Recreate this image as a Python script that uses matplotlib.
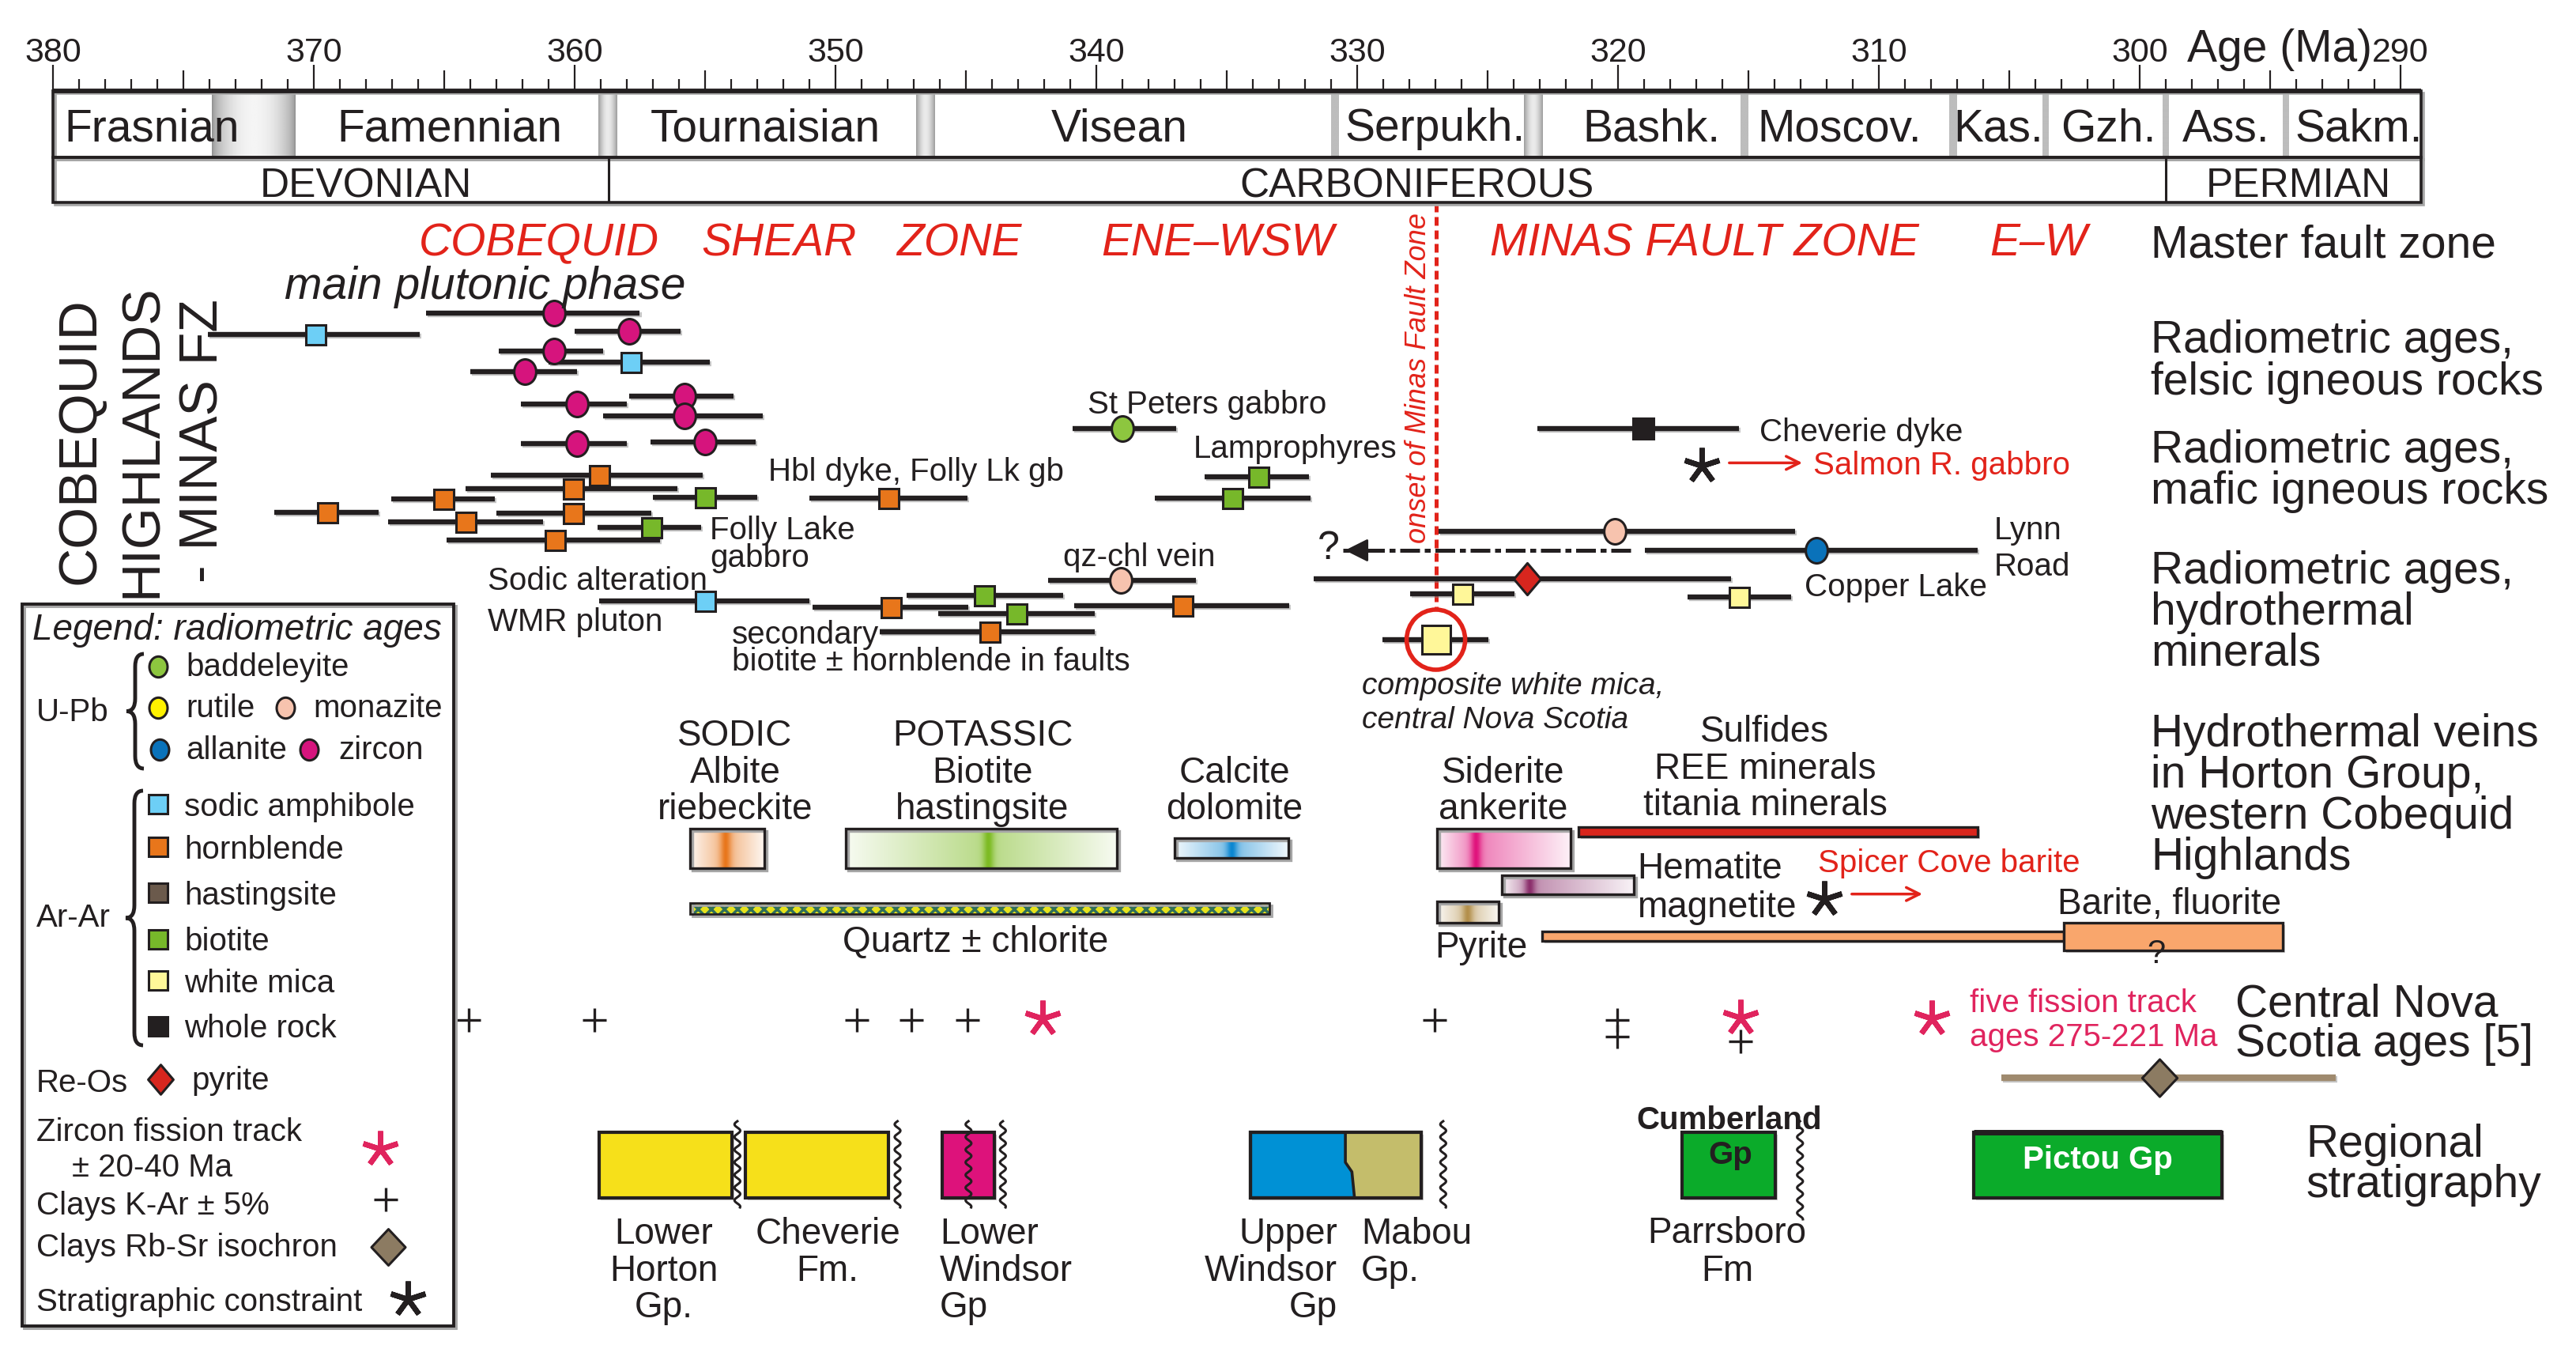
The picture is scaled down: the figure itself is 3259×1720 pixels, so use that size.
import numpy as np
import matplotlib
matplotlib.use("Agg")
import matplotlib.pyplot as plt
import matplotlib.patheffects as pe
from matplotlib.patches import Rectangle, Ellipse, Polygon, PathPatch, FancyArrowPatch
from matplotlib.path import Path
from matplotlib.transforms import Affine2D

plt.rcParams["font.family"] = ["Liberation Sans", "DejaVu Sans"]
plt.rcParams["hatch.linewidth"] = 2.5

# ---------------- time scale (Ma) ----------------
tick_ages = list(range(380, 289, -10))
stage_names = ["Frasnian", "Famennian", "Tournaisian", "Visean", "Serpukh.", "Bashk.",
               "Moscov.", "Kas.", "Gzh.", "Ass.", "Sakm."]
stage_label_age = [376.2, 364.8, 352.7, 339.1, 327.0, 318.7, 311.5, 305.4, 301.2, 296.7, 291.6]
stage_bounds = [372.3, 358.75, 346.55, 330.85, 323.25, 315.15, 307.15, 303.6, 299.0, 294.4]
bound_halfwidth = [1.6, 0.35, 0.35, 0.15, 0.35, 0.15, 0.15, 0.12, 0.12, 0.12]
period_names = ["DEVONIAN", "CARBONIFEROUS", "PERMIAN"]
period_label_age = [368.0, 327.7, 293.9]
period_bounds = [358.7, 299.0]

# ---------------- radiometric ages: centre, older limit, younger limit ----------------
sodamph_age = [369.95, 357.84, 354.99]
sodamph_old = [374.06, 361.0, 359.07]
sodamph_young = [365.94, 354.82, 351.0]

zircon_age = [360.8, 357.9, 360.8, 361.9, 355.8, 359.9, 355.8, 359.9, 355.0]
zircon_old = [365.7, 360.0, 362.9, 364.0, 357.9, 362.05, 358.9, 362.05, 357.1]
zircon_young = [357.5, 355.95, 358.9, 359.9, 353.9, 358.0, 352.8, 358.0, 353.05]

hbl_age = [359.07, 360.07, 365.02, 369.49, 360.07, 364.17, 360.77, 347.98, 347.87, 344.09, 336.71]
hbl_old = [363.22, 364.17, 367.04, 371.51, 363.0, 367.15, 364.92, 351.0, 350.89, 348.3, 340.85]
hbl_young = [355.08, 356.05, 363.07, 367.51, 357.05, 361.2, 356.73, 344.94, 344.9, 340.07, 332.6]

bt_age = [354.99, 357.05, 333.79, 334.79, 344.3, 343.05]
bt_old = [356.99, 359.12, 335.85, 337.76, 347.28, 346.07]
bt_young = [353.01, 355.14, 331.85, 331.8, 341.28, 340.07]

badd_age, badd_old, badd_young = [339.01], [340.92], [336.93]
monaz_age = [339.05, 320.13]
monaz_old = [341.86, 326.89]
monaz_young = [336.18, 313.2]
allan_age, allan_old, allan_young = [312.39], [318.96], [306.2]
allan_extension = [319.5, 330.55]
wr_age, wr_old, wr_young = [319.02], [323.1], [315.35]
reos_age, reos_old, reos_young = [323.49], [331.68], [315.67]
wmica_age = [325.98, 315.35]
wmica_old = [327.96, 317.34]
wmica_young = [323.96, 313.35]
composite_age, composite_old, composite_young = [326.98], [329.02], [324.98]
minas_onset = 326.98
strat_constraint_age = [316.8, 312.1]

# Central Nova Scotia ages
kar_age = [364.07, 359.24, 349.19, 347.09, 344.94, 327.04, 320.03, 320.03, 315.3]
zft_age = [342.07, 315.3, 307.98]
rbsr_age, rbsr_old, rbsr_young = [299.24], [305.29], [292.48]

# hydrothermal veins: older end, younger end, peak
vein_names = ["sodic", "potassic", "calcite", "siderite", "hematite", "pyrite"]
vein_old = [355.56, 349.62, 336.99, 326.94, 324.45, 326.94]
vein_young = [352.73, 339.2, 332.65, 321.83, 319.39, 324.56]
vein_peak = [354.2, 344.15, 334.8, 325.45, 323.38, 325.77]
quartz_range = [355.56, 333.37]
sulfide_range = [321.5, 306.2]
barite_thin = [322.9, 302.9]
barite_box = [302.9, 294.5]

# regional stratigraphy
strat_names = ["Lower Horton", "Cheverie", "Lower Windsor", "Upper Windsor", "Mabou", "Cumberland", "Pictou"]
strat_old = [359.07, 353.44, 345.92, 334.1, 330.45, 317.55, 306.35]
strat_young = [353.97, 347.98, 343.9, 330.45, 327.53, 313.96, 296.85]
unconformity_age = [353.76, 347.62, 344.9, 343.58, 326.7, 313.02]

# ---------------- row positions (layout, px from top) ----------------
sodamph_y = [423, 458, 760]
zircon_y = [396, 419, 444, 470, 501, 511, 526, 561, 559]
hbl_y = [601, 618, 631, 648, 649, 660, 683, 630, 768, 799, 766]
bt_y = [629, 667, 603, 630, 753, 776]
badd_y = [542]
monaz_y = [734, 672]
allan_y = [696]
wr_y = [542]
reos_y = [732]
wmica_y = [751, 755]
composite_y = [809]
strat_constraint_y = [589, 1137]
kar_y = [1290, 1290, 1290, 1290, 1290, 1290, 1290, 1311, 1317]
zft_y = [1288, 1287, 1288]
rbsr_y = [1363]

INK = "#231f20"
RED = "#e2231a"
CRIMSON = "#e0245e"

fig = plt.figure(figsize=(32.59, 17.20), dpi=100)
ax = fig.add_axes([0, 0, 1, 1])
lay = fig.add_axes([0, 0, 1, 1])
lay.patch.set_alpha(0)
ax.axis("off")
lay.axis("off")

line_fx = [pe.SimpleLineShadow(offset=(1.5, -1.5), shadow_color="0.55", alpha=0.5), pe.Normal()]
box_fx = [pe.SimplePatchShadow(offset=(2, -2), shadow_rgbFace="0.6", alpha=0.5), pe.Normal()]

ellipse_mk = Affine2D().scale(0.87, 1.0).transform_path(Path.unit_circle())
diamond_mk = Path([(0, 1), (0.85, 0), (0, -1), (-0.85, 0), (0, 1)], closed=True)
rbsr_mk = Path([(0, 1), (0.94, 0), (0, -1), (-0.94, 0), (0, 1)], closed=True)
star_mk = (5, 2, 0)


def outline(axis, x, y, w, h, lw, shadow=True, zorder=3):
    # unfilled frame with a thin grey drop shadow
    if shadow:
        axis.add_patch(Rectangle((x, y), w, h, fill=False, ec="0.65", lw=lw, zorder=zorder - 0.1,
                                 transform=axis.transData + Affine2D().translate(3, -3)))
    axis.add_patch(Rectangle((x, y), w, h, fill=False, ec=INK, lw=lw, zorder=zorder))


# ---------------- time scale ----------------
TS_TOP, TS_MID, TS_BOT, TS_END = 115, 199, 256, 289.2
for b, hw in zip(stage_bounds, bound_halfwidth):
    t = np.linspace(0, 1, 64)
    if hw > 1:
        v = 0.58 + 0.38 * np.sin(np.pi * t) ** 0.6
    elif hw > 0.2:
        v = 0.62 + 0.3 * np.sin(np.pi * t)
    else:
        v = np.full(64, 0.74)
    ax.imshow(np.tile(v, (2, 1)), cmap="gray", vmin=0, vmax=1, aspect="auto",
              extent=(b + hw, b - hw, TS_MID, TS_TOP), interpolation="bilinear", zorder=1)
outline(ax, TS_END, TS_TOP, 380 - TS_END, TS_MID - TS_TOP, 2.6)
outline(ax, TS_END, TS_MID, 380 - TS_END, TS_BOT - TS_MID, 2.6)
ax.vlines(period_bounds, TS_MID, TS_BOT, color=INK, lw=2.2, zorder=3)
ax.hlines(TS_TOP, 380, TS_END, color=INK, lw=4.2, zorder=4)
minor = np.arange(290, 381)
tick_len = np.where(minor % 10 == 0, 33, np.where(minor % 5 == 0, 26, 15))
ax.vlines(minor, TS_TOP - tick_len, TS_TOP, color=INK, lw=1.6, zorder=4)
for a in tick_ages:
    ax.text(a, 62.5, str(a), fontsize=31, ha="center", va="center_baseline", color=INK)
ax.text(294.64, 57, "Age (Ma)", fontsize=41, ha="center", va="center_baseline", color=INK)
for name, a in zip(stage_names, stage_label_age):
    ax.text(a, 157.5, name, fontsize=41, ha="center", va="center_baseline", color=INK, zorder=5)
for name, a in zip(period_names, period_label_age):
    ax.text(a, 230, name, fontsize=37, ha="center", va="center_baseline", color=INK)

# ---------------- headers ----------------
for x, s in [(529.6, "COBEQUID"), (887, "SHEAR"), (1134, "ZONE"), (1393.7, "ENE\u2013WSW"),
             (1884.8, "MINAS FAULT ZONE"), (2517.6, "E\u2013W")]:
    lay.text(x, 302, s, fontsize=41, style="italic", color=RED, va="center_baseline")


def lines(x, ys, texts, size, **kw):
    kw.setdefault("va", "center_baseline")
    kw.setdefault("color", INK)
    for y, s in zip(ys, texts):
        lay.text(x, y, s, fontsize=size, **kw)


lines(2721, [304], ["Master fault zone"], 41)
lines(2721, [425.5, 478], ["Radiometric ages,", "felsic igneous rocks"], 41)
lines(2721, [564, 615.7], ["Radiometric ages,", "mafic igneous rocks"], 41)
lines(2721, [716.6, 769.3, 821], ["Radiometric ages,", "hydrothermal", "minerals"], 41)
lines(2721, [923, 975, 1026.7, 1079], ["Hydrothermal veins", "in Horton Group,", "western Cobequid", "Highlands"], 41)
lines(2828, [1264, 1315], ["Central Nova", "Scotia ages [5]"], 41)
lines(2917, [1441.7, 1493], ["Regional", "stratigraphy"], 41)

for x, s in [(101, "COBEQUID"), (180, "HIGHLANDS"), (257, "- MINAS FZ")]:
    lay.text(x, 558, s, fontsize=49, rotation=90, ha="center", va="center", color=INK)

lay.text(614, 356.5, "main plutonic phase", fontsize=41, style="italic", ha="center", va="center_baseline", color=INK)

# ---------------- Minas fault onset ----------------
ax.vlines(minas_onset, 257, 771, color=RED, lw=3.6, linestyles=(0, (2.2, 1.2)), zorder=2)
lay.text(1794, 478, "onset of Minas Fault Zone", fontsize=26, style="italic", rotation=90,
         ha="center", va="center", color=RED)
ax.add_patch(Ellipse((composite_age[0], composite_y[0]), 74 / 33, 76, fill=False, ec=RED, lw=4, zorder=6))


# ---------------- radiometric age bars ----------------
def bars(age, old, young, ys, marker, fc, ms, mew=2.2):
    ax.hlines(ys, old, young, colors=INK, lw=4.6, zorder=3, path_effects=line_fx)
    ax.plot(age, ys, ls="none", marker=marker, ms=ms, mfc=fc, mec=INK, mew=mew, zorder=4)


bars(hbl_age, hbl_old, hbl_young, hbl_y, "s", "#e8761b", 18)
bars(bt_age, bt_old, bt_young, bt_y, "s", "#77b82a", 18)
bars(zircon_age, zircon_old, zircon_young, zircon_y, ellipse_mk, "#d6147d", 23)
bars(sodamph_age, sodamph_old, sodamph_young, sodamph_y, "s", "#6dcff6", 18)
bars(badd_age, badd_old, badd_young, badd_y, ellipse_mk, "#8dc63f", 23)
bars(monaz_age, monaz_old, monaz_young, monaz_y, ellipse_mk, "#f7c3ae", 23)
bars(allan_age, allan_old, allan_young, allan_y, ellipse_mk, "#0a72ba", 23)
bars(wr_age, wr_old, wr_young, wr_y, "s", INK, 19)
bars(reos_age, reos_old, reos_young, reos_y, diamond_mk, "#d7261e", 29)
bars(wmica_age, wmica_old, wmica_young, wmica_y, "s", "#fff799", 18)
bars(composite_age, composite_old, composite_young, composite_y, "s", "#fff799", 26)

ax.plot(allan_extension, [allan_y[0]] * 2, color=INK, lw=3.6, ls=(0, (5, 1.2, 1.5, 1.2)), zorder=3)
ax.annotate("", xy=(allan_extension[1], allan_y[0]), xytext=(allan_extension[1] - 1.2, allan_y[0]),
            arrowprops=dict(arrowstyle="-|>", mutation_scale=45, color=INK, lw=2), zorder=4)
ax.plot(strat_constraint_age, strat_constraint_y, ls="none", marker=star_mk, ms=33, mec=INK, mew=4.8, zorder=5)

# labels near bars
lines(1376, [507.7], ["St Peters gabbro"], 29)
lines(1509.5, [563.6], ["Lamprophyres"], 29)
lines(971.6, [593.4], ["Hbl dyke, Folly Lk gb"], 29)
lines(898, [666.6, 701.6], ["Folly Lake", "gabbro"], 29)
lines(617, [731, 782.7], ["Sodic alteration", "WMR pluton"], 29)
lines(926, [799, 833], ["secondary", "biotite \u00b1 hornblende in faults"], 29)
ax.hlines(799, 348.3, 344.09, colors=INK, lw=4.6, zorder=3)
lines(1344.6, [700.5], ["qz-chl vein"], 29)
lines(1681, [689], ["?"], 36, ha="center")
lines(2225.6, [543.4], ["Cheverie dyke"], 29)
lines(2293.6, [584.6], ["Salmon R. gabbro"], 29, color=RED)
lines(2522.8, [667.5, 713], ["Lynn", "Road"], 29)
lines(2283, [738.9], ["Copper Lake"], 29)
lines(1723, [864, 907], ["composite white mica,", "central Nova Scotia"], 28, style="italic")
for x0, x1, y in [(2185, 2283, 585.4), (2340, 2435, 1130.7)]:
    lay.add_patch(FancyArrowPatch((x0, y), (x1, y), arrowstyle="->", mutation_scale=30, color=RED, lw=2.5))


# ---------------- hydrothermal veins ----------------
def grad_box(x0, x1, peak, y0, y1, color, lw=2.4):
    xs = np.linspace(x0, x1, 400)
    d = np.abs(xs - peak)
    side = np.where(xs > peak, abs(x0 - peak), abs(x1 - peak))
    t = 0.06 + 0.5 * (1 - d / side) + 0.44 * np.exp(-(d / 0.22) ** 2)
    t = np.clip(t, 0, 1)[:, None]
    rgb = 1 - t * (1 - np.array(matplotlib.colors.to_rgb(color)))
    ax.imshow(np.tile(rgb[None], (2, 1, 1)), extent=(x0, x1, y1, y0), aspect="auto",
              interpolation="bilinear", zorder=2)
    outline(ax, x1, y0, x0 - x1, y1 - y0, lw)


vein_colors = ["#e8761b", "#7dbb23", "#0a86d1", "#e0137c", "#8b2f6c", "#b38f4a"]
vein_rows = [(1048, 1098), (1048, 1098), (1060, 1085), (1048, 1098), (1107, 1131), (1140, 1167)]
for o, yg, p, c, (y0, y1) in zip(vein_old, vein_young, vein_peak, vein_colors, vein_rows):
    grad_box(o, yg, p, y0, y1, c)

q = Rectangle((quartz_range[1], 1142), quartz_range[0] - quartz_range[1], 14, fc="#e6e21c",
              ec="#2f6f5a", hatch="xx", lw=0, zorder=3)
ax.add_patch(q)
outline(ax, quartz_range[1], 1142, quartz_range[0] - quartz_range[1], 14, 2, zorder=4)
for rng, (y0, y1), fc in [(sulfide_range, (1046, 1058), "#d9261c"), (barite_thin, (1178, 1190), "#f9a66c"),
                          (barite_box, (1167, 1202), "#f9a66c")]:
    r = Rectangle((rng[1], y0), rng[0] - rng[1], y1 - y0, fc=fc, ec=INK, lw=2.4, zorder=3)
    r.set_path_effects(box_fx)
    ax.add_patch(r)

lines(930, [926, 973.3, 1019], ["SODIC", "Albite", "riebeckite"], 33, ha="center")
lines(1243, [926, 973.3, 1019], ["POTASSIC", "Biotite", "hastingsite"], 33, ha="center")
lines(1562, [973.3, 1019], ["Calcite", "dolomite"], 33, ha="center")
lines(1902, [973.3, 1019], ["Siderite", "ankerite"], 33, ha="center")
lines(2233, [921, 968, 1014], ["Sulfides", "REE minerals", "titania minerals"], 33, ha="center")
lines(2071, [1094, 1142.5], ["Hematite", "magnetite"], 33)
lines(2299.6, [1088], ["Spicer Cove barite"], 29, color=RED)
lines(2745, [1139], ["Barite, fluorite"], 33, ha="center")
lines(2728, [1203], ["?"], 30, ha="center")
lines(1234, [1186.7], ["Quartz \u00b1 chlorite"], 33, ha="center")
lines(1815, [1194], ["Pyrite"], 33)

# ---------------- Central Nova Scotia ages ----------------
ax.plot(kar_age, kar_y, ls="none", marker="+", ms=21, mec=INK, mew=2.4, zorder=4)
ax.plot(zft_age, zft_y, ls="none", marker=star_mk, ms=33, mec=CRIMSON, mew=4.8, zorder=5)
ax.hlines(rbsr_y, rbsr_old, rbsr_young, colors="#9f8a6e", lw=6, zorder=3, path_effects=line_fx)
ax.plot(rbsr_age, rbsr_y, ls="none", marker=rbsr_mk, ms=34, mfc="#8c7b62", mec=INK, mew=2.2, zorder=4)
lines(2491.7, [1265, 1308], ["five fission track", "ages 275-221 Ma"], 29, color=CRIMSON)

# ---------------- regional stratigraphy ----------------
S_TOP, S_BOT = 1432, 1515
strat_colors = ["#f6e01a", "#f6e01a", "#dd127b", "#0091d5", "#c4bd6b", "#0bab2a", "#0bab2a"]
for i, (o, yg, c) in enumerate(zip(strat_old, strat_young, strat_colors)):
    if strat_names[i] in ("Upper Windsor", "Mabou"):
        continue
    r = Rectangle((yg, S_TOP), o - yg, S_BOT - S_TOP, fc=c, ec=INK, lw=3, zorder=2)
    r.set_path_effects(box_fx)
    ax.add_patch(r)
mab_o, mab_y = strat_old[4], strat_young[4]
uw = Rectangle((mab_y, S_TOP), strat_old[3] - mab_y, S_BOT - S_TOP, fc="#0091d5", ec=INK, lw=3, zorder=2)
uw.set_path_effects(box_fx)
ax.add_patch(uw)
mab = Polygon([(mab_o, S_TOP), (mab_y, S_TOP), (mab_y, S_BOT), (mab_o - 0.35, S_BOT), (mab_o - 0.25, 1482),
               (mab_o, 1470)], closed=True, fc="#c4bd6b", ec="none", zorder=2.5)
ax.add_patch(mab)
ax.plot([mab_o, mab_o, mab_o - 0.25, mab_o - 0.35], [S_TOP, 1470, 1482, S_BOT], color=INK, lw=2.6, zorder=3)
outline(ax, mab_y, S_TOP, strat_old[3] - mab_y, S_BOT - S_TOP, 3, shadow=False)
ax.hlines(S_TOP, strat_old[6], strat_young[6], colors=INK, lw=5, zorder=3)

for a in unconformity_age:
    yy = np.linspace(1418, 1542 if a < 314 else 1527, 240)
    ax.plot(a + 0.11 * np.sin((yy - 1418) / 16 * 2 * np.pi), yy, color=INK, lw=2.2, zorder=4)

lines(840, [1556, 1603, 1649], ["Lower", "Horton", "Gp."], 33, ha="center")
lines(1047, [1556, 1603], ["Cheverie", "Fm."], 33, ha="center")
lines(1189, [1556, 1603, 1649], ["Lower", "Windsor", "Gp"], 33)
lines(1692, [1556, 1603, 1649], ["Upper", "Windsor", "Gp"], 33, ha="right")
lines(1722, [1556, 1603], ["Mabou", "Gp."], 33)
lines(2188, [1412.5], ["Cumberland"], 29, ha="center", weight="bold")
lines(2189, [1456.7], ["Gp"], 29, ha="center", weight="bold")
lines(2185, [1555, 1602.7], ["Parrsboro", "Fm"], 33, ha="center")
lines(2654, [1463], ["Pictou Gp"], 29, ha="center", weight="bold", color="white")

# ---------------- legend ----------------
outline(lay, 28, 764, 546, 913, 2.8, zorder=1)


def brace(x, y0, y1, w=11, r=16):
    ym = (y0 + y1) / 2
    verts = [(x + w, y0), (x, y0), (x, y0 + r), (x, ym - r), (x, ym), (x - w, ym),
             (x, ym), (x, ym + r), (x, y1 - r), (x, y1), (x + w, y1)]
    codes = [Path.MOVETO, Path.CURVE3, Path.CURVE3, Path.LINETO, Path.CURVE3, Path.CURVE3,
             Path.CURVE3, Path.CURVE3, Path.LINETO, Path.CURVE3, Path.CURVE3]
    lay.add_patch(PathPatch(Path(verts, codes), fill=False, ec=INK, lw=3.5))


brace(171, 827, 972)
brace(170, 1000, 1322)

lines(40.7, [791.7], ["Legend: radiometric ages"], 33, style="italic")
lines(45.6, [896.7, 1156.7, 1366, 1428, 1521, 1574, 1643],
      ["U-Pb", "Ar-Ar", "Re-Os", "Zircon fission track", "Clays K-Ar \u00b1 5%", "Clays Rb-Sr isochron",
       "Stratigraphic constraint"], 29)
lines(91, [1473], ["\u00b1 20-40 Ma"], 29)
leg_circles = [(200, 843, "#8dc63f", "baddeleyite", 235), (200, 895, "#fff200", "rutile", 235),
               (361, 895, "#f7c3ae", "monazite", 396), (202, 948, "#0a72ba", "allanite", 235),
               (391, 948, "#d6147d", "zircon", 428)]
for x, y, c, s, tx in leg_circles:
    lay.plot(x, y, marker=ellipse_mk, ms=19, mfc=c, mec=INK, mew=2.2)
    lines(tx, [y - 3], [s], 29)
leg_squares = [(1016.7, "#6dcff6", "sodic amphibole"), (1071, "#e8761b", "hornblende"),
               (1129, "#6b5a4c", "hastingsite"), (1187.5, "#77b82a", "biotite"),
               (1240, "#fff799", "white mica"), (1297.5, INK, "whole rock")]
for y, c, s in leg_squares:
    lay.plot(200, y, marker="s", ms=17, mfc=c, mec=INK, mew=2.2)
    lines(233, [y], [s], 29)
lay.plot(203, 1365, marker=diamond_mk, ms=27, mfc="#d7261e", mec=INK, mew=2.2)
lines(242, [1363.5], ["pyrite"], 29)
lay.plot(480.5, 1453, marker=star_mk, ms=33, mec=CRIMSON, mew=4.8)
lay.plot(487.6, 1517, marker="+", ms=21, mec=INK, mew=2.4)
lay.plot(491, 1577, marker=rbsr_mk, ms=33, mfc="#8c7b62", mec=INK, mew=2.2)
lay.plot(515.6, 1643, marker=star_mk, ms=33, mec=INK, mew=4.8)

ax.set_xlim(382.03, 283.27)
ax.set_ylim(1720, 0)
lay.set_xlim(0, 3259)
lay.set_ylim(1720, 0)
fig.savefig("out.png", dpi=100)
